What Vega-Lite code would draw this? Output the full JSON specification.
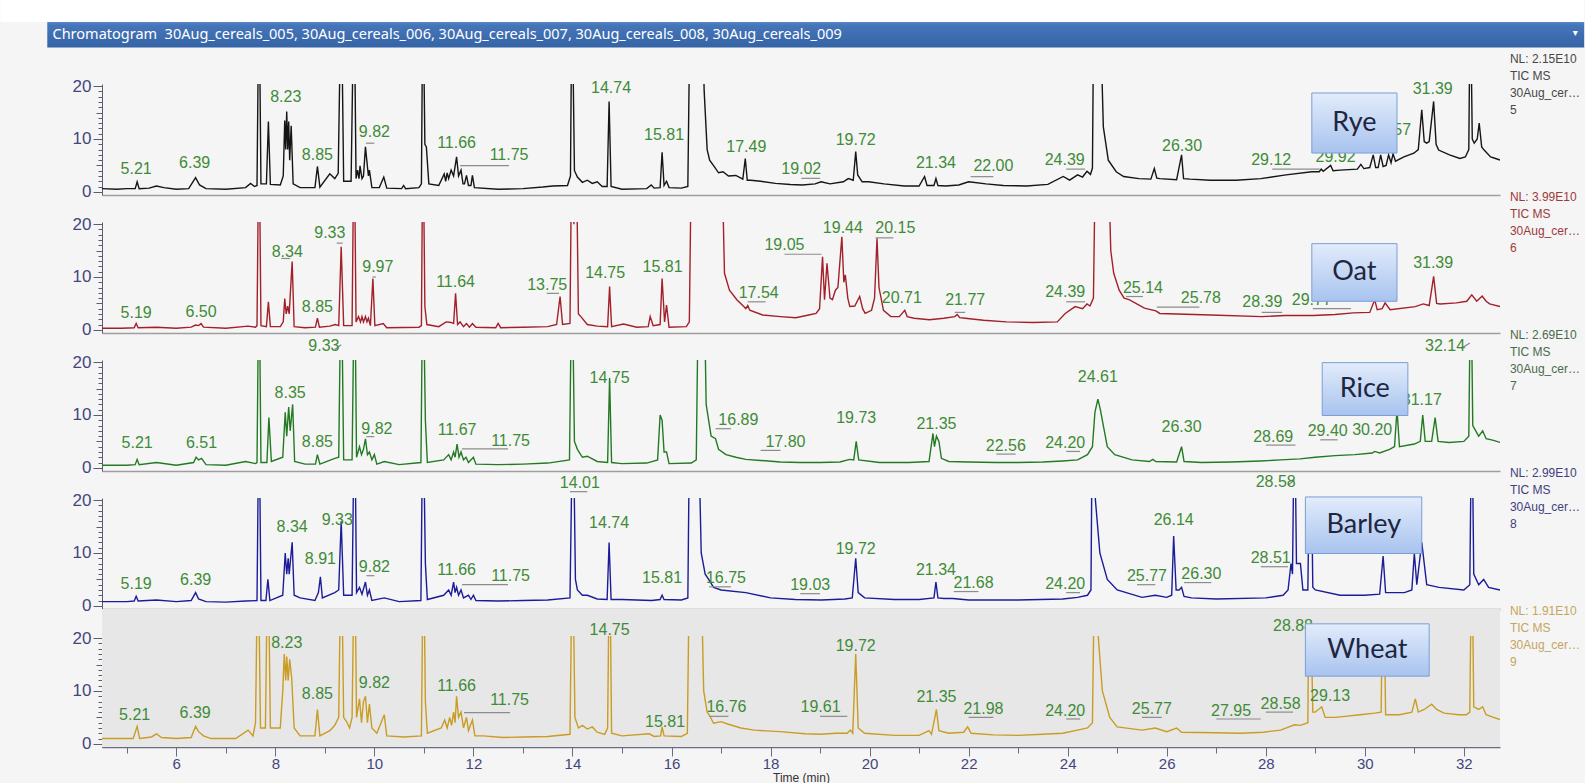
{
  "$schema": "https://vega.github.io/schema/vega-lite/v6.json",
  "padding": {"left": 0, "top": 0, "right": 0, "bottom": 0},
  "bounds": "flush",
  "spacing": 27,
  "resolve": {"scale": {"x": "independent", "y": "independent"}},
  "config": {
    "background": "#f5f5f5",
    "view": {"stroke": null},
    "axis": {"grid": false, "labelOverlap": false, "labelFont": "Liberation Sans", "titleFont": "Liberation Sans"}
  },
  "datasets": {
    "rye": [
      {"t":4.5,"i":0.6},{"t":4.8,"i":0.5},{"t":5.0,"i":0.6},{"t":5.17,"i":0.6},{"t":5.21,"i":1.9},{"t":5.25,"i":0.6},{"t":5.45,"i":0.7},{"t":5.6,"i":1.1},{"t":5.75,"i":0.8},{"t":6.0,"i":0.5},{"t":6.25,"i":0.6},{"t":6.39,"i":2.7},{"t":6.47,"i":1.3},{"t":6.6,"i":0.6},{"t":7.0,"i":0.5},{"t":7.4,"i":0.8},{"t":7.5,"i":1.6},{"t":7.58,"i":1.0},{"t":7.63,"i":1.2},{"t":7.67,"i":40},{"t":7.71,"i":1.5},{"t":7.82,"i":1.5},{"t":7.86,"i":13.3},{"t":7.9,"i":1.4},{"t":8.1,"i":1.3},{"t":8.16,"i":3},{"t":8.19,"i":13.5},{"t":8.21,"i":8},{"t":8.23,"i":15.2},{"t":8.25,"i":8},{"t":8.27,"i":13.3},{"t":8.29,"i":6},{"t":8.32,"i":12.5},{"t":8.36,"i":1.5},{"t":8.5,"i":0.8},{"t":8.8,"i":0.8},{"t":8.85,"i":4.8},{"t":8.9,"i":0.9},{"t":9.1,"i":3.4},{"t":9.2,"i":2.5},{"t":9.27,"i":3.5},{"t":9.33,"i":40},{"t":9.38,"i":2.0},{"t":9.53,"i":2.0},{"t":9.59,"i":40},{"t":9.63,"i":2.5},{"t":9.66,"i":4.1},{"t":9.69,"i":2.5},{"t":9.71,"i":4.9},{"t":9.75,"i":2.5},{"t":9.78,"i":3},{"t":9.82,"i":8.5},{"t":9.86,"i":4.75},{"t":9.88,"i":3},{"t":9.9,"i":4.1},{"t":9.95,"i":0.8},{"t":10.1,"i":0.8},{"t":10.19,"i":2.8},{"t":10.25,"i":0.7},{"t":10.55,"i":0.6},{"t":10.59,"i":1.2},{"t":10.63,"i":0.6},{"t":10.9,"i":0.8},{"t":10.95,"i":1.5},{"t":10.98,"i":40},{"t":11.02,"i":9},{"t":11.05,"i":8.5},{"t":11.1,"i":1.5},{"t":11.3,"i":1.2},{"t":11.41,"i":3.4},{"t":11.44,"i":2.0},{"t":11.47,"i":3.6},{"t":11.5,"i":2.5},{"t":11.55,"i":4.1},{"t":11.6,"i":3},{"t":11.66,"i":6.6},{"t":11.7,"i":3},{"t":11.75,"i":4.1},{"t":11.79,"i":1.5},{"t":11.82,"i":1.5},{"t":11.86,"i":3.1},{"t":11.9,"i":1.2},{"t":11.95,"i":1.2},{"t":11.98,"i":3.1},{"t":12.02,"i":0.8},{"t":12.5,"i":0.5},{"t":13.0,"i":0.6},{"t":13.4,"i":0.9},{"t":13.6,"i":1.1},{"t":13.9,"i":1.2},{"t":13.96,"i":3},{"t":13.99,"i":40},{"t":14.04,"i":4},{"t":14.1,"i":2.8},{"t":14.2,"i":1.8},{"t":14.3,"i":2.2},{"t":14.4,"i":1.6},{"t":14.5,"i":1.9},{"t":14.6,"i":1.0},{"t":14.7,"i":1.0},{"t":14.74,"i":17.1},{"t":14.78,"i":1.0},{"t":15.0,"i":0.5},{"t":15.5,"i":0.6},{"t":15.59,"i":1.3},{"t":15.65,"i":0.7},{"t":15.77,"i":0.8},{"t":15.81,"i":7.5},{"t":15.85,"i":1.2},{"t":15.9,"i":2},{"t":15.95,"i":0.8},{"t":16.2,"i":0.7},{"t":16.33,"i":1.0},{"t":16.38,"i":40},{"t":16.6,"i":40},{"t":16.66,"i":19},{"t":16.72,"i":8},{"t":16.77,"i":6.0},{"t":16.86,"i":4.8},{"t":16.95,"i":3.6},{"t":17.04,"i":3.8},{"t":17.15,"i":3.0},{"t":17.3,"i":3.1},{"t":17.44,"i":2.4},{"t":17.49,"i":6.3},{"t":17.53,"i":2.2},{"t":17.6,"i":2.2},{"t":17.8,"i":2.0},{"t":18.1,"i":1.6},{"t":18.4,"i":1.4},{"t":18.64,"i":1.3},{"t":18.9,"i":1.5},{"t":19.02,"i":1.9},{"t":19.2,"i":1.5},{"t":19.47,"i":1.9},{"t":19.57,"i":2.5},{"t":19.67,"i":2.2},{"t":19.72,"i":7.6},{"t":19.76,"i":3.2},{"t":19.85,"i":1.9},{"t":19.98,"i":1.9},{"t":20.29,"i":1.5},{"t":20.7,"i":1.1},{"t":21.0,"i":1.1},{"t":21.11,"i":2.9},{"t":21.16,"i":1.2},{"t":21.3,"i":1.2},{"t":21.34,"i":2.5},{"t":21.38,"i":1.2},{"t":21.53,"i":1.1},{"t":21.8,"i":1.3},{"t":22.0,"i":1.9},{"t":22.35,"i":1.5},{"t":22.7,"i":1.2},{"t":23.17,"i":1.1},{"t":23.6,"i":1.4},{"t":23.91,"i":2.9},{"t":24.04,"i":2.2},{"t":24.2,"i":3.2},{"t":24.3,"i":2.8},{"t":24.39,"i":3.9},{"t":24.46,"i":3.3},{"t":24.5,"i":4.5},{"t":24.53,"i":40},{"t":24.64,"i":40},{"t":24.72,"i":12.3},{"t":24.82,"i":6},{"t":24.98,"i":3.8},{"t":25.13,"i":2.9},{"t":25.44,"i":2.5},{"t":25.68,"i":2.4},{"t":25.75,"i":4.4},{"t":25.8,"i":2.6},{"t":25.86,"i":2.5},{"t":26.2,"i":2.3},{"t":26.3,"i":7.0},{"t":26.34,"i":2.5},{"t":26.47,"i":2.4},{"t":26.88,"i":2.2},{"t":27.4,"i":2.2},{"t":27.9,"i":2.5},{"t":28.41,"i":3.2},{"t":28.93,"i":3.8},{"t":29.08,"i":3.8},{"t":29.12,"i":4.3},{"t":29.16,"i":3.9},{"t":29.31,"i":5.0},{"t":29.36,"i":4.0},{"t":29.5,"i":4.1},{"t":29.85,"i":4.3},{"t":29.92,"i":5.2},{"t":29.98,"i":4.4},{"t":30.1,"i":4.6},{"t":30.17,"i":7.0},{"t":30.22,"i":4.6},{"t":30.27,"i":4.6},{"t":30.32,"i":7.0},{"t":30.37,"i":4.8},{"t":30.43,"i":5.0},{"t":30.48,"i":7.0},{"t":30.53,"i":5.5},{"t":30.57,"i":7.2},{"t":30.62,"i":5.8},{"t":30.79,"i":6.6},{"t":30.99,"i":7.3},{"t":31.08,"i":8},{"t":31.15,"i":15.5},{"t":31.2,"i":9.5},{"t":31.25,"i":9.2},{"t":31.3,"i":9.5},{"t":31.39,"i":17.1},{"t":31.44,"i":9},{"t":31.49,"i":7.9},{"t":31.71,"i":7},{"t":31.92,"i":6.3},{"t":32.03,"i":6.6},{"t":32.1,"i":8},{"t":32.13,"i":40},{"t":32.17,"i":10},{"t":32.21,"i":9.2},{"t":32.27,"i":10},{"t":32.31,"i":13.0},{"t":32.36,"i":8.5},{"t":32.41,"i":7.9},{"t":32.54,"i":6.6},{"t":32.64,"i":6.3},{"t":32.73,"i":6.0}
    ],
    "oat": [
      {"t":4.5,"i":0.3},{"t":4.9,"i":0.3},{"t":5.15,"i":0.4},{"t":5.19,"i":1.2},{"t":5.23,"i":0.4},{"t":5.6,"i":0.5},{"t":6.0,"i":0.3},{"t":6.3,"i":0.5},{"t":6.39,"i":0.9},{"t":6.45,"i":0.8},{"t":6.5,"i":1.2},{"t":6.55,"i":0.5},{"t":7.0,"i":0.3},{"t":7.45,"i":0.7},{"t":7.6,"i":0.5},{"t":7.63,"i":0.8},{"t":7.67,"i":40},{"t":7.71,"i":0.8},{"t":7.82,"i":0.6},{"t":7.86,"i":5.3},{"t":7.9,"i":0.6},{"t":8.1,"i":0.6},{"t":8.16,"i":1.5},{"t":8.19,"i":5.9},{"t":8.22,"i":3},{"t":8.25,"i":4.5},{"t":8.28,"i":3},{"t":8.31,"i":8},{"t":8.34,"i":12.9},{"t":8.38,"i":0.6},{"t":8.6,"i":0.4},{"t":8.81,"i":0.5},{"t":8.85,"i":2.2},{"t":8.89,"i":0.5},{"t":9.1,"i":0.7},{"t":9.21,"i":1.0},{"t":9.28,"i":0.8},{"t":9.33,"i":15.7},{"t":9.38,"i":0.8},{"t":9.55,"i":0.8},{"t":9.59,"i":40},{"t":9.63,"i":1.5},{"t":9.68,"i":2.5},{"t":9.72,"i":1.5},{"t":9.75,"i":2.5},{"t":9.78,"i":1.5},{"t":9.82,"i":2.5},{"t":9.85,"i":1.5},{"t":9.88,"i":2.2},{"t":9.92,"i":0.8},{"t":9.97,"i":9.7},{"t":10.01,"i":0.8},{"t":10.18,"i":1.2},{"t":10.25,"i":0.4},{"t":10.9,"i":0.5},{"t":10.95,"i":0.8},{"t":10.98,"i":40},{"t":11.02,"i":4.4},{"t":11.06,"i":1.0},{"t":11.3,"i":0.6},{"t":11.45,"i":1.5},{"t":11.55,"i":1.4},{"t":11.6,"i":1.2},{"t":11.64,"i":6.9},{"t":11.68,"i":1.0},{"t":11.73,"i":1.5},{"t":11.8,"i":0.6},{"t":11.86,"i":1.2},{"t":11.92,"i":0.5},{"t":11.98,"i":1.2},{"t":12.05,"i":0.5},{"t":12.45,"i":0.4},{"t":12.5,"i":1.2},{"t":12.55,"i":0.4},{"t":13.0,"i":0.5},{"t":13.5,"i":0.6},{"t":13.68,"i":1.0},{"t":13.75,"i":6.3},{"t":13.8,"i":1.0},{"t":13.95,"i":1.2},{"t":13.99,"i":40},{"t":14.03,"i":20},{"t":14.07,"i":40},{"t":14.12,"i":3},{"t":14.17,"i":2.5},{"t":14.3,"i":1.0},{"t":14.5,"i":0.7},{"t":14.71,"i":0.6},{"t":14.75,"i":8.2},{"t":14.79,"i":0.6},{"t":15.03,"i":1.1},{"t":15.3,"i":0.5},{"t":15.53,"i":0.6},{"t":15.57,"i":2.5},{"t":15.63,"i":0.8},{"t":15.77,"i":1.0},{"t":15.81,"i":9.7},{"t":15.86,"i":1.5},{"t":15.9,"i":4.7},{"t":15.95,"i":0.5},{"t":16.3,"i":0.6},{"t":16.36,"i":1.5},{"t":16.41,"i":40},{"t":17.0,"i":40},{"t":17.07,"i":10.7},{"t":17.17,"i":7.5},{"t":17.32,"i":5.7},{"t":17.46,"i":4.4},{"t":17.5,"i":4.0},{"t":17.54,"i":4.6},{"t":17.58,"i":3.7},{"t":17.84,"i":2.8},{"t":18.2,"i":2.5},{"t":18.51,"i":2.3},{"t":18.77,"i":2.8},{"t":18.92,"i":3.1},{"t":18.99,"i":4},{"t":19.05,"i":13.8},{"t":19.09,"i":5.7},{"t":19.14,"i":12.6},{"t":19.2,"i":6},{"t":19.25,"i":5.7},{"t":19.31,"i":7.5},{"t":19.36,"i":8},{"t":19.44,"i":17.6},{"t":19.48,"i":9},{"t":19.51,"i":10.4},{"t":19.56,"i":6},{"t":19.6,"i":4.4},{"t":19.7,"i":4.5},{"t":19.8,"i":6.3},{"t":19.86,"i":4},{"t":19.91,"i":3.1},{"t":20.04,"i":3.7},{"t":20.1,"i":6},{"t":20.15,"i":17.3},{"t":20.19,"i":8},{"t":20.28,"i":3.7},{"t":20.43,"i":2.5},{"t":20.6,"i":2.5},{"t":20.71,"i":3.7},{"t":20.76,"i":2.5},{"t":20.9,"i":2.2},{"t":21.21,"i":1.9},{"t":21.5,"i":2.2},{"t":21.72,"i":2.5},{"t":21.77,"i":2.9},{"t":21.82,"i":2.3},{"t":21.93,"i":2.2},{"t":22.3,"i":1.8},{"t":22.76,"i":1.5},{"t":23.3,"i":1.4},{"t":23.79,"i":1.5},{"t":23.95,"i":3.1},{"t":24.15,"i":4.4},{"t":24.3,"i":4.0},{"t":24.39,"i":4.9},{"t":24.45,"i":4.5},{"t":24.52,"i":6},{"t":24.57,"i":40},{"t":24.8,"i":40},{"t":24.87,"i":15},{"t":24.93,"i":10.7},{"t":25.04,"i":7.5},{"t":25.14,"i":6.0},{"t":25.24,"i":5.7},{"t":25.55,"i":4.1},{"t":25.78,"i":3.6},{"t":25.86,"i":3.1},{"t":26.89,"i":2.8},{"t":27.92,"i":2.5},{"t":28.39,"i":2.7},{"t":28.96,"i":2.7},{"t":29.4,"i":2.9},{"t":29.77,"i":3.2},{"t":30.1,"i":3.3},{"t":30.2,"i":5.7},{"t":30.25,"i":3.8},{"t":30.35,"i":4.0},{"t":30.41,"i":5.1},{"t":30.51,"i":3.8},{"t":31.02,"i":4.4},{"t":31.18,"i":4.9},{"t":31.3,"i":4.6},{"t":31.39,"i":10.1},{"t":31.45,"i":5},{"t":31.52,"i":4.9},{"t":31.85,"i":5.1},{"t":32.06,"i":5.4},{"t":32.16,"i":6.6},{"t":32.26,"i":5.4},{"t":32.37,"i":6.4},{"t":32.45,"i":5.4},{"t":32.52,"i":4.9},{"t":32.73,"i":4.4}
    ],
    "rice": [
      {"t":4.5,"i":0.5},{"t":5.0,"i":0.5},{"t":5.17,"i":0.6},{"t":5.21,"i":1.6},{"t":5.25,"i":0.6},{"t":5.6,"i":1.0},{"t":6.0,"i":0.5},{"t":6.35,"i":1.0},{"t":6.4,"i":2.0},{"t":6.45,"i":1.5},{"t":6.51,"i":1.8},{"t":6.6,"i":0.6},{"t":7.0,"i":0.5},{"t":7.4,"i":1.2},{"t":7.6,"i":0.8},{"t":7.63,"i":1.0},{"t":7.67,"i":40},{"t":7.71,"i":1.0},{"t":7.83,"i":1.0},{"t":7.87,"i":9.5},{"t":7.92,"i":1.2},{"t":8.15,"i":2},{"t":8.2,"i":10.5},{"t":8.23,"i":6},{"t":8.27,"i":11.5},{"t":8.3,"i":7},{"t":8.35,"i":12.0},{"t":8.39,"i":1.2},{"t":8.6,"i":0.7},{"t":8.81,"i":0.7},{"t":8.85,"i":2.5},{"t":8.9,"i":0.7},{"t":9.2,"i":1.8},{"t":9.28,"i":2},{"t":9.33,"i":40},{"t":9.38,"i":1.5},{"t":9.55,"i":1.5},{"t":9.6,"i":40},{"t":9.64,"i":2},{"t":9.7,"i":4.0},{"t":9.74,"i":2.5},{"t":9.78,"i":3.5},{"t":9.82,"i":5.5},{"t":9.86,"i":2.5},{"t":9.9,"i":3.0},{"t":9.95,"i":1.5},{"t":10.0,"i":2.5},{"t":10.05,"i":0.7},{"t":10.2,"i":1.2},{"t":10.5,"i":0.6},{"t":10.94,"i":1.0},{"t":10.98,"i":40},{"t":11.03,"i":9.0},{"t":11.07,"i":1.0},{"t":11.4,"i":1.5},{"t":11.5,"i":2.5},{"t":11.55,"i":1.5},{"t":11.6,"i":3.0},{"t":11.63,"i":2},{"t":11.67,"i":4.5},{"t":11.71,"i":2},{"t":11.75,"i":3.0},{"t":11.8,"i":1.5},{"t":11.85,"i":2.0},{"t":11.9,"i":1.0},{"t":12.0,"i":2.0},{"t":12.05,"i":0.7},{"t":12.5,"i":0.6},{"t":13.0,"i":0.7},{"t":13.5,"i":0.9},{"t":13.94,"i":1.5},{"t":13.99,"i":40},{"t":14.04,"i":5},{"t":14.1,"i":3.5},{"t":14.2,"i":2.0},{"t":14.3,"i":2.2},{"t":14.5,"i":1.2},{"t":14.71,"i":1.0},{"t":14.75,"i":17.0},{"t":14.79,"i":1.0},{"t":15.0,"i":0.8},{"t":15.5,"i":0.9},{"t":15.72,"i":1.5},{"t":15.77,"i":10.0},{"t":15.81,"i":9.0},{"t":15.85,"i":3.0},{"t":15.9,"i":3.0},{"t":15.95,"i":0.8},{"t":16.4,"i":0.9},{"t":16.5,"i":1.5},{"t":16.55,"i":40},{"t":16.65,"i":40},{"t":16.7,"i":12},{"t":16.8,"i":6.0},{"t":16.89,"i":5.5},{"t":16.95,"i":3.5},{"t":17.1,"i":2.5},{"t":17.3,"i":2.0},{"t":17.5,"i":1.6},{"t":17.8,"i":1.4},{"t":18.2,"i":1.1},{"t":18.6,"i":1.0},{"t":19.0,"i":1.0},{"t":19.4,"i":1.1},{"t":19.6,"i":1.6},{"t":19.68,"i":1.5},{"t":19.73,"i":5.0},{"t":19.78,"i":1.5},{"t":20.2,"i":1.0},{"t":20.8,"i":1.0},{"t":21.2,"i":1.2},{"t":21.28,"i":6.5},{"t":21.31,"i":4},{"t":21.35,"i":6.0},{"t":21.4,"i":5.0},{"t":21.45,"i":1.8},{"t":21.6,"i":1.2},{"t":22.0,"i":1.1},{"t":22.56,"i":1.0},{"t":23.0,"i":1.0},{"t":23.5,"i":1.1},{"t":23.9,"i":1.3},{"t":24.2,"i":1.5},{"t":24.4,"i":2.5},{"t":24.5,"i":4.0},{"t":24.55,"i":10.5},{"t":24.61,"i":13.0},{"t":24.66,"i":11.0},{"t":24.72,"i":8.0},{"t":24.8,"i":4.0},{"t":24.95,"i":2.5},{"t":25.3,"i":1.5},{"t":25.65,"i":1.2},{"t":25.72,"i":1.6},{"t":25.78,"i":1.2},{"t":26.2,"i":1.1},{"t":26.3,"i":4.0},{"t":26.35,"i":1.2},{"t":26.7,"i":1.0},{"t":27.3,"i":1.1},{"t":27.9,"i":1.3},{"t":28.3,"i":1.5},{"t":28.69,"i":1.7},{"t":29.0,"i":2.0},{"t":29.4,"i":2.3},{"t":29.8,"i":2.5},{"t":30.15,"i":2.8},{"t":30.2,"i":3.1},{"t":30.3,"i":2.8},{"t":30.5,"i":3.5},{"t":30.6,"i":4.0},{"t":30.65,"i":11.0},{"t":30.7,"i":4.0},{"t":31.0,"i":4.5},{"t":31.12,"i":5},{"t":31.17,"i":10.0},{"t":31.22,"i":5},{"t":31.35,"i":5.0},{"t":31.42,"i":9.5},{"t":31.48,"i":5.0},{"t":31.7,"i":4.8},{"t":32.0,"i":5.0},{"t":32.1,"i":6},{"t":32.14,"i":40},{"t":32.18,"i":8},{"t":32.3,"i":6.0},{"t":32.38,"i":7.0},{"t":32.45,"i":5.5},{"t":32.6,"i":5.2},{"t":32.73,"i":4.8}
    ],
    "barley": [
      {"t":4.5,"i":0.8},{"t":5.0,"i":0.8},{"t":5.15,"i":0.9},{"t":5.19,"i":1.8},{"t":5.23,"i":0.9},{"t":5.6,"i":1.1},{"t":6.0,"i":0.8},{"t":6.3,"i":1.0},{"t":6.39,"i":2.5},{"t":6.45,"i":1.3},{"t":6.6,"i":0.8},{"t":7.0,"i":0.7},{"t":7.4,"i":0.9},{"t":7.63,"i":1.0},{"t":7.67,"i":40},{"t":7.71,"i":1.0},{"t":7.81,"i":1.0},{"t":7.85,"i":5.0},{"t":7.89,"i":1.0},{"t":8.15,"i":2},{"t":8.2,"i":10.0},{"t":8.23,"i":6},{"t":8.26,"i":9},{"t":8.28,"i":6},{"t":8.3,"i":8},{"t":8.34,"i":12},{"t":8.38,"i":2},{"t":8.5,"i":1.5},{"t":8.8,"i":1.0},{"t":8.87,"i":2.5},{"t":8.91,"i":5.5},{"t":8.95,"i":1.5},{"t":9.2,"i":2.5},{"t":9.28,"i":3},{"t":9.33,"i":16.0},{"t":9.38,"i":2},{"t":9.55,"i":2},{"t":9.6,"i":40},{"t":9.64,"i":2.5},{"t":9.7,"i":3.5},{"t":9.75,"i":2.2},{"t":9.82,"i":4.5},{"t":9.86,"i":2},{"t":9.9,"i":3.0},{"t":9.95,"i":1.0},{"t":10.2,"i":1.5},{"t":10.5,"i":0.8},{"t":10.94,"i":1.0},{"t":10.98,"i":40},{"t":11.03,"i":8.0},{"t":11.07,"i":1.2},{"t":11.4,"i":2},{"t":11.5,"i":3.0},{"t":11.55,"i":2},{"t":11.6,"i":4.5},{"t":11.63,"i":2.5},{"t":11.66,"i":3.5},{"t":11.7,"i":2},{"t":11.75,"i":3.0},{"t":11.8,"i":1.5},{"t":11.9,"i":2.0},{"t":11.95,"i":1.2},{"t":12.0,"i":2.0},{"t":12.05,"i":1.0},{"t":12.5,"i":0.9},{"t":13.0,"i":1.0},{"t":13.5,"i":1.1},{"t":13.95,"i":1.5},{"t":14.01,"i":40},{"t":14.06,"i":5},{"t":14.1,"i":3.0},{"t":14.2,"i":2.0},{"t":14.3,"i":2.0},{"t":14.5,"i":1.3},{"t":14.7,"i":1.2},{"t":14.74,"i":12.0},{"t":14.78,"i":1.2},{"t":15.0,"i":1.2},{"t":15.6,"i":1.0},{"t":15.77,"i":1.2},{"t":15.81,"i":2.0},{"t":15.85,"i":1.2},{"t":16.2,"i":1.1},{"t":16.33,"i":1.5},{"t":16.37,"i":40},{"t":16.53,"i":40},{"t":16.6,"i":10.0},{"t":16.68,"i":6},{"t":16.75,"i":5.0},{"t":16.85,"i":3.5},{"t":17.0,"i":3.0},{"t":17.5,"i":2.5},{"t":18.0,"i":1.5},{"t":18.5,"i":1.2},{"t":19.03,"i":1.1},{"t":19.5,"i":1.3},{"t":19.65,"i":1.5},{"t":19.72,"i":9.0},{"t":19.77,"i":2.5},{"t":19.9,"i":1.5},{"t":20.5,"i":1.2},{"t":21.0,"i":1.2},{"t":21.3,"i":1.5},{"t":21.34,"i":4.5},{"t":21.38,"i":1.5},{"t":21.5,"i":1.4},{"t":21.68,"i":1.4},{"t":22.0,"i":1.1},{"t":23.0,"i":1.1},{"t":23.9,"i":1.3},{"t":24.2,"i":1.6},{"t":24.4,"i":2.0},{"t":24.47,"i":3},{"t":24.5,"i":40},{"t":24.56,"i":20},{"t":24.65,"i":10},{"t":24.8,"i":5.0},{"t":25.0,"i":3.0},{"t":25.5,"i":1.6},{"t":25.77,"i":2.0},{"t":26.0,"i":1.6},{"t":26.1,"i":2},{"t":26.14,"i":13.2},{"t":26.19,"i":3},{"t":26.25,"i":3.0},{"t":26.3,"i":3.5},{"t":26.35,"i":1.8},{"t":26.5,"i":1.5},{"t":27.0,"i":1.3},{"t":28.0,"i":1.5},{"t":28.35,"i":2.0},{"t":28.45,"i":3},{"t":28.51,"i":8.0},{"t":28.54,"i":6},{"t":28.58,"i":40},{"t":28.62,"i":8},{"t":28.7,"i":8.0},{"t":28.75,"i":3},{"t":28.85,"i":3},{"t":28.9,"i":40},{"t":28.95,"i":3.5},{"t":29.0,"i":3.0},{"t":29.5,"i":2.0},{"t":30.0,"i":2.0},{"t":30.3,"i":2.2},{"t":30.37,"i":9.4},{"t":30.42,"i":2.5},{"t":30.8,"i":2.5},{"t":30.95,"i":3},{"t":31.0,"i":10.0},{"t":31.05,"i":4},{"t":31.15,"i":12.0},{"t":31.25,"i":4.0},{"t":31.5,"i":3.5},{"t":32.0,"i":3.0},{"t":32.12,"i":4},{"t":32.16,"i":40},{"t":32.2,"i":6},{"t":32.3,"i":4.0},{"t":32.4,"i":5.0},{"t":32.5,"i":3.5},{"t":32.73,"i":3.0}
    ],
    "wheat": [
      {"t":4.5,"i":1.0},{"t":5.0,"i":1.0},{"t":5.13,"i":1.0},{"t":5.21,"i":3.3},{"t":5.26,"i":1.0},{"t":5.5,"i":1.3},{"t":5.6,"i":1.9},{"t":5.7,"i":1.2},{"t":6.0,"i":1.0},{"t":6.3,"i":1.2},{"t":6.39,"i":3.3},{"t":6.45,"i":2.3},{"t":6.55,"i":1.5},{"t":6.7,"i":1.0},{"t":7.2,"i":1.0},{"t":7.45,"i":2.6},{"t":7.55,"i":1.5},{"t":7.6,"i":4},{"t":7.65,"i":40},{"t":7.7,"i":3},{"t":7.8,"i":3},{"t":7.85,"i":40},{"t":7.9,"i":3},{"t":8.1,"i":3},{"t":8.15,"i":10},{"t":8.18,"i":17.0},{"t":8.21,"i":12},{"t":8.23,"i":16.5},{"t":8.26,"i":12},{"t":8.29,"i":16.0},{"t":8.33,"i":12.5},{"t":8.38,"i":3},{"t":8.5,"i":1.5},{"t":8.8,"i":1.5},{"t":8.85,"i":6.5},{"t":8.9,"i":1.5},{"t":9.1,"i":2.5},{"t":9.2,"i":3.5},{"t":9.28,"i":5},{"t":9.33,"i":40},{"t":9.38,"i":5},{"t":9.45,"i":4},{"t":9.5,"i":3},{"t":9.55,"i":5},{"t":9.6,"i":40},{"t":9.64,"i":5},{"t":9.7,"i":8.5},{"t":9.74,"i":4},{"t":9.78,"i":8.0},{"t":9.82,"i":9.0},{"t":9.86,"i":4},{"t":9.9,"i":7.5},{"t":9.95,"i":3},{"t":10.05,"i":2},{"t":10.2,"i":5.5},{"t":10.25,"i":1.5},{"t":10.6,"i":1.3},{"t":10.95,"i":1.5},{"t":10.99,"i":40},{"t":11.03,"i":8},{"t":11.07,"i":2},{"t":11.35,"i":3},{"t":11.42,"i":4.5},{"t":11.47,"i":3},{"t":11.52,"i":5},{"t":11.56,"i":3.5},{"t":11.6,"i":6},{"t":11.63,"i":4},{"t":11.66,"i":9},{"t":11.7,"i":5},{"t":11.75,"i":6},{"t":11.8,"i":3},{"t":11.86,"i":5},{"t":11.9,"i":2.5},{"t":11.98,"i":4.5},{"t":12.03,"i":1.5},{"t":12.2,"i":1.5},{"t":12.6,"i":1.2},{"t":13.0,"i":1.3},{"t":13.5,"i":1.4},{"t":13.95,"i":1.8},{"t":14.0,"i":40},{"t":14.05,"i":5},{"t":14.12,"i":3},{"t":14.2,"i":3.5},{"t":14.3,"i":2.8},{"t":14.4,"i":3.2},{"t":14.5,"i":2.2},{"t":14.65,"i":1.8},{"t":14.71,"i":3},{"t":14.75,"i":40},{"t":14.79,"i":2},{"t":15.0,"i":1.5},{"t":15.55,"i":1.9},{"t":15.65,"i":1.4},{"t":15.78,"i":1.5},{"t":15.81,"i":3.2},{"t":15.85,"i":1.5},{"t":16.2,"i":1.4},{"t":16.32,"i":2},{"t":16.37,"i":40},{"t":16.58,"i":40},{"t":16.65,"i":10},{"t":16.72,"i":6},{"t":16.76,"i":5.5},{"t":16.85,"i":3.9},{"t":17.0,"i":4.2},{"t":17.15,"i":3.7},{"t":17.4,"i":3.0},{"t":17.67,"i":2.6},{"t":18.0,"i":2.4},{"t":18.19,"i":2.3},{"t":18.7,"i":1.9},{"t":19.0,"i":1.8},{"t":19.32,"i":2.0},{"t":19.55,"i":2.0},{"t":19.61,"i":2.6},{"t":19.66,"i":2.0},{"t":19.72,"i":17.0},{"t":19.77,"i":3},{"t":19.9,"i":2.0},{"t":20.5,"i":1.6},{"t":21.0,"i":1.6},{"t":21.2,"i":2.5},{"t":21.25,"i":1.8},{"t":21.35,"i":6.5},{"t":21.4,"i":2.5},{"t":21.6,"i":2.0},{"t":21.9,"i":2.2},{"t":21.98,"i":3.2},{"t":22.05,"i":2.0},{"t":22.5,"i":1.7},{"t":23.0,"i":1.6},{"t":23.5,"i":1.8},{"t":23.9,"i":2.0},{"t":24.2,"i":2.6},{"t":24.4,"i":3.0},{"t":24.5,"i":4},{"t":24.55,"i":40},{"t":24.62,"i":20},{"t":24.7,"i":10},{"t":24.85,"i":5},{"t":25.0,"i":3.2},{"t":25.5,"i":2.6},{"t":25.77,"i":3.0},{"t":26.0,"i":2.3},{"t":26.2,"i":3.0},{"t":26.3,"i":2.2},{"t":27.0,"i":2.1},{"t":27.5,"i":2.0},{"t":27.95,"i":2.2},{"t":28.3,"i":2.6},{"t":28.58,"i":3.6},{"t":28.7,"i":3.5},{"t":28.85,"i":4},{"t":28.88,"i":40},{"t":28.95,"i":6},{"t":29.0,"i":6.0},{"t":29.13,"i":7.0},{"t":29.2,"i":5.0},{"t":29.4,"i":5.0},{"t":29.6,"i":5.2},{"t":29.9,"i":5.5},{"t":30.2,"i":5.8},{"t":30.33,"i":6},{"t":30.37,"i":40},{"t":30.42,"i":5.5},{"t":30.7,"i":5.5},{"t":30.95,"i":6},{"t":31.02,"i":8.5},{"t":31.08,"i":6},{"t":31.2,"i":6.5},{"t":31.35,"i":7.5},{"t":31.45,"i":6.5},{"t":31.6,"i":5.8},{"t":31.9,"i":5.5},{"t":32.05,"i":5.5},{"t":32.12,"i":6},{"t":32.16,"i":40},{"t":32.2,"i":7},{"t":32.3,"i":6.5},{"t":32.38,"i":7.0},{"t":32.45,"i":5.5},{"t":32.6,"i":5.0},{"t":32.73,"i":4.6}
    ],
    "peaks": [
      {"p":"Rye","rt":"5.21","x":5.19,"y":4.4},{"p":"Rye","rt":"6.39","x":6.37,"y":5.4},{"p":"Rye","rt":"8.23","x":8.21,"y":17.9},{"p":"Rye","rt":"8.85","x":8.85,"y":7.0},{"p":"Rye","rt":"9.82","x":10.0,"y":11.4},{"p":"Rye","rt":"11.66","x":11.66,"y":9.2},{"p":"Rye","rt":"11.75","x":12.72,"y":7.0},{"p":"Rye","rt":"14.74","x":14.78,"y":19.6},{"p":"Rye","rt":"15.81","x":15.85,"y":10.7},{"p":"Rye","rt":"17.49","x":17.51,"y":8.4},{"p":"Rye","rt":"19.02","x":18.62,"y":4.4},{"p":"Rye","rt":"19.72","x":19.72,"y":9.8},{"p":"Rye","rt":"21.34","x":21.34,"y":5.4},{"p":"Rye","rt":"22.00","x":22.5,"y":4.8},{"p":"Rye","rt":"24.39","x":23.94,"y":6.0},{"p":"Rye","rt":"26.30","x":26.31,"y":8.6},{"p":"Rye","rt":"29.12","x":28.11,"y":6.0},{"p":"Rye","rt":"29.92","x":29.41,"y":6.6},{"p":"Rye","rt":"30.57","x":30.53,"y":11.7},{"p":"Rye","rt":"31.39","x":31.37,"y":19.4},
      {"p":"Oat","rt":"5.19","x":5.19,"y":3.1},{"p":"Oat","rt":"6.50","x":6.5,"y":3.4},{"p":"Oat","rt":"8.34","x":8.24,"y":14.8},{"p":"Oat","rt":"8.85","x":8.85,"y":4.4},{"p":"Oat","rt":"9.33","x":9.1,"y":18.3},{"p":"Oat","rt":"9.97","x":10.07,"y":11.9},{"p":"Oat","rt":"11.64","x":11.64,"y":9.1},{"p":"Oat","rt":"13.75","x":13.49,"y":8.5},{"p":"Oat","rt":"14.75","x":14.66,"y":10.7},{"p":"Oat","rt":"15.81","x":15.82,"y":11.9},{"p":"Oat","rt":"17.54","x":17.76,"y":6.9},{"p":"Oat","rt":"19.05","x":18.28,"y":16.0},{"p":"Oat","rt":"19.44","x":19.46,"y":19.2},{"p":"Oat","rt":"20.15","x":20.52,"y":19.2},{"p":"Oat","rt":"20.71","x":20.65,"y":6.0},{"p":"Oat","rt":"21.77","x":21.93,"y":5.6},{"p":"Oat","rt":"24.39","x":23.95,"y":7.2},{"p":"Oat","rt":"25.14","x":25.52,"y":7.85},{"p":"Oat","rt":"25.78","x":26.69,"y":6.0},{"p":"Oat","rt":"28.39","x":27.93,"y":5.3},{"p":"Oat","rt":"29.77","x":28.93,"y":5.6},{"p":"Oat","rt":"31.39","x":31.38,"y":12.6},
      {"p":"Rice","rt":"5.21","x":5.21,"y":4.7},{"p":"Rice","rt":"6.51","x":6.51,"y":4.7},{"p":"Rice","rt":"8.35","x":8.3,"y":14.1},{"p":"Rice","rt":"8.85","x":8.85,"y":4.9},{"p":"Rice","rt":"9.33","x":8.98,"y":23.1},{"p":"Rice","rt":"9.82","x":10.05,"y":7.4},{"p":"Rice","rt":"11.67","x":11.67,"y":7.2},{"p":"Rice","rt":"11.75","x":12.75,"y":5.1},{"p":"Rice","rt":"14.75","x":14.75,"y":17.0},{"p":"Rice","rt":"16.89","x":17.35,"y":9.1},{"p":"Rice","rt":"17.80","x":18.3,"y":4.9},{"p":"Rice","rt":"19.73","x":19.73,"y":9.5},{"p":"Rice","rt":"21.35","x":21.35,"y":8.2},{"p":"Rice","rt":"22.56","x":22.75,"y":4.2},{"p":"Rice","rt":"24.20","x":23.95,"y":4.7},{"p":"Rice","rt":"24.61","x":24.61,"y":17.2},{"p":"Rice","rt":"26.30","x":26.3,"y":7.8},{"p":"Rice","rt":"28.69","x":28.15,"y":5.9},{"p":"Rice","rt":"29.40","x":29.25,"y":6.9},{"p":"Rice","rt":"30.20","x":30.15,"y":7.1},{"p":"Rice","rt":"31.17","x":31.15,"y":12.8},{"p":"Rice","rt":"32.14","x":31.62,"y":23.1},
      {"p":"Barley","rt":"5.19","x":5.19,"y":4.1},{"p":"Barley","rt":"6.39","x":6.39,"y":4.8},{"p":"Barley","rt":"8.34","x":8.34,"y":15.0},{"p":"Barley","rt":"8.91","x":8.91,"y":8.9},{"p":"Barley","rt":"9.33","x":9.25,"y":16.3},{"p":"Barley","rt":"9.82","x":10.0,"y":7.3},{"p":"Barley","rt":"11.66","x":11.66,"y":6.75},{"p":"Barley","rt":"11.75","x":12.75,"y":5.6},{"p":"Barley","rt":"14.01","x":14.15,"y":23.2},{"p":"Barley","rt":"14.74","x":14.74,"y":15.7},{"p":"Barley","rt":"15.81","x":15.81,"y":5.2},{"p":"Barley","rt":"16.75","x":17.1,"y":5.2},{"p":"Barley","rt":"19.03","x":18.8,"y":3.9},{"p":"Barley","rt":"19.72","x":19.72,"y":10.8},{"p":"Barley","rt":"21.34","x":21.34,"y":6.75},{"p":"Barley","rt":"21.68","x":22.1,"y":4.3},{"p":"Barley","rt":"24.20","x":23.95,"y":4.1},{"p":"Barley","rt":"25.77","x":25.6,"y":5.6},{"p":"Barley","rt":"26.14","x":26.14,"y":16.3},{"p":"Barley","rt":"26.30","x":26.7,"y":6.0},{"p":"Barley","rt":"28.51","x":28.1,"y":9.0},{"p":"Barley","rt":"28.58","x":28.2,"y":23.4},
      {"p":"Wheat","rt":"5.21","x":5.16,"y":5.45},{"p":"Wheat","rt":"6.39","x":6.38,"y":5.76},{"p":"Wheat","rt":"8.23","x":8.23,"y":19.0},{"p":"Wheat","rt":"8.85","x":8.85,"y":9.5},{"p":"Wheat","rt":"9.82","x":10.0,"y":11.5},{"p":"Wheat","rt":"11.66","x":11.66,"y":11.0},{"p":"Wheat","rt":"11.75","x":12.73,"y":8.3},{"p":"Wheat","rt":"14.75","x":14.75,"y":21.5},{"p":"Wheat","rt":"15.81","x":15.87,"y":4.2},{"p":"Wheat","rt":"16.76","x":17.11,"y":7.0},{"p":"Wheat","rt":"19.61","x":19.01,"y":6.9},{"p":"Wheat","rt":"19.72","x":19.72,"y":18.5},{"p":"Wheat","rt":"21.35","x":21.35,"y":8.8},{"p":"Wheat","rt":"21.98","x":22.3,"y":6.5},{"p":"Wheat","rt":"24.20","x":23.95,"y":6.3},{"p":"Wheat","rt":"25.77","x":25.7,"y":6.5},{"p":"Wheat","rt":"27.95","x":27.3,"y":6.3},{"p":"Wheat","rt":"28.58","x":28.3,"y":7.5},{"p":"Wheat","rt":"29.13","x":29.3,"y":9.0},{"p":"Wheat","rt":"28.88","x":28.55,"y":22.3}
    ],
    "leaders": [
      {"p":"Rye","x1":9.83,"x2":10.0,"y1":9.2,"y2":9.2},{"p":"Rye","x1":11.73,"x2":12.72,"y1":4.94,"y2":4.94},{"p":"Rye","x1":18.62,"x2":19.0,"y1":2.55,"y2":2.55},{"p":"Rye","x1":22.04,"x2":22.5,"y1":2.87,"y2":2.87},{"p":"Rye","x1":23.97,"x2":24.35,"y1":4.3,"y2":4.3},{"p":"Rye","x1":28.13,"x2":29.09,"y1":4.3,"y2":4.3},
      {"p":"Oat","x1":8.12,"x2":8.3,"y1":13.5,"y2":13.5},{"p":"Oat","x1":9.24,"x2":9.36,"y1":16.4,"y2":16.4},{"p":"Oat","x1":9.96,"x2":10.03,"y1":10.0,"y2":10.0},{"p":"Oat","x1":13.48,"x2":13.73,"y1":6.9,"y2":6.9},{"p":"Oat","x1":17.54,"x2":17.9,"y1":5.3,"y2":5.3},{"p":"Oat","x1":18.28,"x2":19.03,"y1":14.3,"y2":14.3},{"p":"Oat","x1":20.12,"x2":20.48,"y1":17.4,"y2":17.4},{"p":"Oat","x1":21.72,"x2":21.93,"y1":3.3,"y2":3.3},{"p":"Oat","x1":23.97,"x2":24.35,"y1":5.3,"y2":5.3},{"p":"Oat","x1":25.18,"x2":25.52,"y1":6.3,"y2":6.3},{"p":"Oat","x1":25.8,"x2":26.66,"y1":4.3,"y2":4.3},{"p":"Oat","x1":27.92,"x2":28.33,"y1":3.3,"y2":3.3},{"p":"Oat","x1":28.95,"x2":29.72,"y1":4.0,"y2":4.0},
      {"p":"Rice","x1":9.2,"x2":9.33,"y1":22.4,"y2":23.3},{"p":"Rice","x1":9.84,"x2":10.0,"y1":5.9,"y2":5.9},{"p":"Rice","x1":11.77,"x2":12.7,"y1":3.6,"y2":3.6},{"p":"Rice","x1":16.89,"x2":17.2,"y1":7.4,"y2":7.4},{"p":"Rice","x1":17.8,"x2":18.2,"y1":3.3,"y2":3.3},{"p":"Rice","x1":22.56,"x2":22.95,"y1":2.6,"y2":2.6},{"p":"Rice","x1":23.97,"x2":24.25,"y1":3.1,"y2":3.1},{"p":"Rice","x1":28.0,"x2":28.6,"y1":4.3,"y2":4.3},{"p":"Rice","x1":29.1,"x2":29.45,"y1":5.3,"y2":5.3},{"p":"Rice","x1":31.95,"x2":32.12,"y1":22.6,"y2":23.6},
      {"p":"Barley","x1":13.95,"x2":14.3,"y1":21.6,"y2":21.6},{"p":"Barley","x1":9.84,"x2":10.0,"y1":5.7,"y2":5.7},{"p":"Barley","x1":11.77,"x2":12.7,"y1":4.0,"y2":4.0},{"p":"Barley","x1":16.76,"x2":17.2,"y1":3.6,"y2":3.6},{"p":"Barley","x1":18.6,"x2":19.0,"y1":2.3,"y2":2.3},{"p":"Barley","x1":21.7,"x2":22.2,"y1":2.7,"y2":2.7},{"p":"Barley","x1":23.97,"x2":24.25,"y1":2.5,"y2":2.5},{"p":"Barley","x1":25.4,"x2":25.77,"y1":4.0,"y2":4.0},{"p":"Barley","x1":26.35,"x2":26.9,"y1":4.4,"y2":4.4},{"p":"Barley","x1":27.9,"x2":28.45,"y1":7.4,"y2":7.4},{"p":"Barley","x1":28.45,"x2":28.58,"y1":22.8,"y2":23.8},
      {"p":"Wheat","x1":11.81,"x2":12.74,"y1":5.9,"y2":5.9},{"p":"Wheat","x1":16.76,"x2":17.15,"y1":5.2,"y2":5.2},{"p":"Wheat","x1":19.0,"x2":19.55,"y1":5.2,"y2":5.2},{"p":"Wheat","x1":22.0,"x2":22.5,"y1":5.0,"y2":5.0},{"p":"Wheat","x1":23.97,"x2":24.25,"y1":4.7,"y2":4.7},{"p":"Wheat","x1":25.5,"x2":25.9,"y1":5.0,"y2":5.0},{"p":"Wheat","x1":27.0,"x2":27.9,"y1":4.7,"y2":4.7},{"p":"Wheat","x1":28.0,"x2":28.55,"y1":6.0,"y2":6.0}
    ]
  },
  "vconcat": [
    {
      "width": 1398,
      "height": 57,
      "data": {"values": [{}]},
      "layer": [
        {
          "mark": {"type": "rect", "fill": "#ffffff"},
          "encoding": {
            "x": {"datum": 2.446, "type": "quantitative", "scale": {"domain": [4.5, 32.73], "nice": false, "zero": false}, "axis": null},
            "x2": {"datum": 34.43},
            "y": {"datum": 0.614, "type": "quantitative", "scale": {"domain": [0, 1], "nice": false, "zero": false}, "axis": null},
            "y2": {"datum": 1}
          }
        },
        {
          "mark": {"type": "rect", "fill": {"gradient": "linear", "x1": 0, "y1": 0, "x2": 0, "y2": 1, "stops": [{"offset": 0, "color": "#5a88c6"}, {"offset": 0.12, "color": "#4676b9"}, {"offset": 1, "color": "#3464a6"}]}},
          "encoding": {
            "x": {"datum": 3.395, "type": "quantitative"},
            "x2": {"datum": 34.43},
            "y": {"datum": 0.167, "type": "quantitative"},
            "y2": {"datum": 0.614}
          }
        },
        {
          "mark": {"type": "text", "align": "left", "baseline": "middle", "font": "Noto Sans", "fontSize": 14.5, "color": "#ffffff"},
          "encoding": {
            "x": {"datum": 3.5, "type": "quantitative"},
            "y": {"datum": 0.39, "type": "quantitative"},
            "text": {"value": "Chromatogram\u00a0 30Aug_cereals_005, 30Aug_cereals_006, 30Aug_cereals_007, 30Aug_cereals_008, 30Aug_cereals_009"}
          }
        },
        {
          "mark": {"type": "text", "align": "center", "baseline": "middle", "font": "DejaVu Sans", "fontSize": 10, "color": "#ffffff"},
          "encoding": {
            "x": {"datum": 34.25, "type": "quantitative"},
            "y": {"datum": 0.42, "type": "quantitative"},
            "text": {"value": "▾"}
          }
        }
      ]
    },
    {
      "width": 1398,
      "height": 111,
      "layer": [
        {
          "data": {"name": "rye"},
          "mark": {"type": "line", "clip": true, "color": "#151515", "strokeWidth": 1.4},
          "encoding": {
            "x": {"field": "t", "type": "quantitative", "scale": {"domain": [4.5, 32.73], "nice": false, "zero": false},
                  "axis": {"title": null, "labels": false, "ticks": false, "domainColor": "#9e9e9e", "domainWidth": 1.6}},
            "y": {"field": "i", "type": "quantitative", "scale": {"domain": [-0.6, 20.4], "nice": false, "zero": false},
                  "axis": {"title": null, "values": [0,1,2,3,4,5,6,7,8,9,10,11,12,13,14,15,16,17,18,19,20], "tickCount": 40, "format": "d", "labelExpr": "datum.value % 10 === 0 ? datum.label : ''", "labelOverlap": false, "labelFontSize": 17, "labelColor": "#43467e", "labelPadding": 2, "tickColor": "#5a5c70", "domainColor": "#5a5c70", "tickSize": {"condition": [{"test": "datum.value % 10 === 0", "value": 9}, {"test": "datum.value % 5 === 0", "value": 6}], "value": 4}}}
          }
        },
        {
          "data": {"name": "leaders"},
          "transform": [{"filter": "datum.p === 'Rye'"}],
          "mark": {"type": "rule", "color": "#8c8c8c", "strokeWidth": 1.2},
          "encoding": {"x": {"field": "x1", "type": "quantitative"}, "x2": {"field": "x2"}, "y": {"field": "y1", "type": "quantitative"}, "y2": {"field": "y2"}}
        },
        {
          "data": {"name": "peaks"},
          "transform": [{"filter": "datum.p === 'Rye'"}],
          "mark": {"type": "text", "font": "Liberation Sans", "fontSize": 16, "color": "#3f8b37", "baseline": "middle"},
          "encoding": {"x": {"field": "x", "type": "quantitative"}, "y": {"field": "y", "type": "quantitative"}, "text": {"field": "rt"}}
        },
        {
          "data": {"values": [{}]},
          "mark": {"type": "rect", "stroke": "#7a9ed6", "strokeWidth": 1, "fill": {"gradient": "linear", "x1": 0, "y1": 0, "x2": 0, "y2": 1, "stops": [{"offset": 0, "color": "#e2ecfb"}, {"offset": 1, "color": "#a8c3ef"}]}},
          "encoding": {"x": {"datum": 28.93, "type": "quantitative"}, "x2": {"datum": 30.65}, "y": {"datum": 18.7, "type": "quantitative"}, "y2": {"datum": 7.34}}
        },
        {
          "data": {"values": [{}]},
          "mark": {"type": "text", "font": "Lato", "fontSize": 27, "color": "#1e2640", "baseline": "middle"},
          "encoding": {"x": {"datum": 29.79, "type": "quantitative"}, "y": {"datum": 13.0, "type": "quantitative"}, "text": {"value": "Rye"}}
        },
        {
          "data": {"values": [{}]},
          "mark": {"type": "text", "align": "left", "baseline": "top", "lineBreak": "\n", "lineHeight": 17, "font": "Liberation Sans", "fontSize": 12, "limit": 74, "ellipsis": "", "color": "#474747"},
          "encoding": {"x": {"datum": 32.93, "type": "quantitative"}, "y": {"datum": 26.08, "type": "quantitative"}, "text": {"value": "NL: 2.15E10\nTIC MS\n30Aug_cereals_00\n5"}}
        }
      ]
    },
    {
      "width": 1398,
      "height": 111,
      "layer": [
        {
          "data": {"name": "oat"},
          "mark": {"type": "line", "clip": true, "color": "#a3202a", "strokeWidth": 1.4},
          "encoding": {
            "x": {"field": "t", "type": "quantitative", "scale": {"domain": [4.5, 32.73], "nice": false, "zero": false},
                  "axis": {"title": null, "labels": false, "ticks": false, "domainColor": "#9e9e9e", "domainWidth": 1.6}},
            "y": {"field": "i", "type": "quantitative", "scale": {"domain": [-0.6, 20.4], "nice": false, "zero": false},
                  "axis": {"title": null, "values": [0,1,2,3,4,5,6,7,8,9,10,11,12,13,14,15,16,17,18,19,20], "tickCount": 40, "format": "d", "labelExpr": "datum.value % 10 === 0 ? datum.label : ''", "labelOverlap": false, "labelFontSize": 17, "labelColor": "#43467e", "labelPadding": 2, "tickColor": "#5a5c70", "domainColor": "#5a5c70", "tickSize": {"condition": [{"test": "datum.value % 10 === 0", "value": 9}, {"test": "datum.value % 5 === 0", "value": 6}], "value": 4}}}
          }
        },
        {
          "data": {"name": "leaders"},
          "transform": [{"filter": "datum.p === 'Oat'"}],
          "mark": {"type": "rule", "color": "#8c8c8c", "strokeWidth": 1.2},
          "encoding": {"x": {"field": "x1", "type": "quantitative"}, "x2": {"field": "x2"}, "y": {"field": "y1", "type": "quantitative"}, "y2": {"field": "y2"}}
        },
        {
          "data": {"name": "peaks"},
          "transform": [{"filter": "datum.p === 'Oat'"}],
          "mark": {"type": "text", "font": "Liberation Sans", "fontSize": 16, "color": "#3f8b37", "baseline": "middle"},
          "encoding": {"x": {"field": "x", "type": "quantitative"}, "y": {"field": "y", "type": "quantitative"}, "text": {"field": "rt"}}
        },
        {
          "data": {"values": [{}]},
          "mark": {"type": "rect", "stroke": "#7a9ed6", "strokeWidth": 1, "fill": {"gradient": "linear", "x1": 0, "y1": 0, "x2": 0, "y2": 1, "stops": [{"offset": 0, "color": "#e2ecfb"}, {"offset": 1, "color": "#a8c3ef"}]}},
          "encoding": {"x": {"datum": 28.93, "type": "quantitative"}, "x2": {"datum": 30.65}, "y": {"datum": 16.3, "type": "quantitative"}, "y2": {"datum": 5.4}}
        },
        {
          "data": {"values": [{}]},
          "mark": {"type": "text", "font": "Lato", "fontSize": 27, "color": "#1e2640", "baseline": "middle"},
          "encoding": {"x": {"datum": 29.79, "type": "quantitative"}, "y": {"datum": 10.85, "type": "quantitative"}, "text": {"value": "Oat"}}
        },
        {
          "data": {"values": [{}]},
          "mark": {"type": "text", "align": "left", "baseline": "top", "lineBreak": "\n", "lineHeight": 17, "font": "Liberation Sans", "fontSize": 12, "limit": 74, "ellipsis": "", "color": "#9c3a3a"},
          "encoding": {"x": {"datum": 32.93, "type": "quantitative"}, "y": {"datum": 26.08, "type": "quantitative"}, "text": {"value": "NL: 3.99E10\nTIC MS\n30Aug_cereals_00\n6"}}
        }
      ]
    },
    {
      "width": 1398,
      "height": 111,
      "layer": [
        {
          "data": {"name": "rice"},
          "mark": {"type": "line", "clip": true, "color": "#247a24", "strokeWidth": 1.4},
          "encoding": {
            "x": {"field": "t", "type": "quantitative", "scale": {"domain": [4.5, 32.73], "nice": false, "zero": false},
                  "axis": {"title": null, "labels": false, "ticks": false, "domainColor": "#9e9e9e", "domainWidth": 1.6}},
            "y": {"field": "i", "type": "quantitative", "scale": {"domain": [-0.6, 20.4], "nice": false, "zero": false},
                  "axis": {"title": null, "values": [0,1,2,3,4,5,6,7,8,9,10,11,12,13,14,15,16,17,18,19,20], "tickCount": 40, "format": "d", "labelExpr": "datum.value % 10 === 0 ? datum.label : ''", "labelOverlap": false, "labelFontSize": 17, "labelColor": "#43467e", "labelPadding": 2, "tickColor": "#5a5c70", "domainColor": "#5a5c70", "tickSize": {"condition": [{"test": "datum.value % 10 === 0", "value": 9}, {"test": "datum.value % 5 === 0", "value": 6}], "value": 4}}}
          }
        },
        {
          "data": {"name": "leaders"},
          "transform": [{"filter": "datum.p === 'Rice'"}],
          "mark": {"type": "rule", "color": "#8c8c8c", "strokeWidth": 1.2},
          "encoding": {"x": {"field": "x1", "type": "quantitative"}, "x2": {"field": "x2"}, "y": {"field": "y1", "type": "quantitative"}, "y2": {"field": "y2"}}
        },
        {
          "data": {"name": "peaks"},
          "transform": [{"filter": "datum.p === 'Rice'"}],
          "mark": {"type": "text", "font": "Liberation Sans", "fontSize": 16, "color": "#3f8b37", "baseline": "middle"},
          "encoding": {"x": {"field": "x", "type": "quantitative"}, "y": {"field": "y", "type": "quantitative"}, "text": {"field": "rt"}}
        },
        {
          "data": {"values": [{}]},
          "mark": {"type": "rect", "stroke": "#7a9ed6", "strokeWidth": 1, "fill": {"gradient": "linear", "x1": 0, "y1": 0, "x2": 0, "y2": 1, "stops": [{"offset": 0, "color": "#e2ecfb"}, {"offset": 1, "color": "#a8c3ef"}]}},
          "encoding": {"x": {"datum": 29.14, "type": "quantitative"}, "x2": {"datum": 30.87}, "y": {"datum": 19.9, "type": "quantitative"}, "y2": {"datum": 9.9}}
        },
        {
          "data": {"values": [{}]},
          "mark": {"type": "text", "font": "Lato", "fontSize": 27, "color": "#1e2640", "baseline": "middle"},
          "encoding": {"x": {"datum": 30.0, "type": "quantitative"}, "y": {"datum": 14.9, "type": "quantitative"}, "text": {"value": "Rice"}}
        },
        {
          "data": {"values": [{}]},
          "mark": {"type": "text", "align": "left", "baseline": "top", "lineBreak": "\n", "lineHeight": 17, "font": "Liberation Sans", "fontSize": 12, "limit": 74, "ellipsis": "", "color": "#4a6a4a"},
          "encoding": {"x": {"datum": 32.93, "type": "quantitative"}, "y": {"datum": 26.08, "type": "quantitative"}, "text": {"value": "NL: 2.69E10\nTIC MS\n30Aug_cereals_00\n7"}}
        }
      ]
    },
    {
      "width": 1398,
      "height": 111,
      "layer": [
        {
          "data": {"name": "barley"},
          "mark": {"type": "line", "clip": true, "color": "#1c1c98", "strokeWidth": 1.4},
          "encoding": {
            "x": {"field": "t", "type": "quantitative", "scale": {"domain": [4.5, 32.73], "nice": false, "zero": false},
                  "axis": {"title": null, "labels": false, "ticks": false, "domainColor": "#9e9e9e", "domainWidth": 1.6}},
            "y": {"field": "i", "type": "quantitative", "scale": {"domain": [-0.6, 20.4], "nice": false, "zero": false},
                  "axis": {"title": null, "values": [0,1,2,3,4,5,6,7,8,9,10,11,12,13,14,15,16,17,18,19,20], "tickCount": 40, "format": "d", "labelExpr": "datum.value % 10 === 0 ? datum.label : ''", "labelOverlap": false, "labelFontSize": 17, "labelColor": "#43467e", "labelPadding": 2, "tickColor": "#5a5c70", "domainColor": "#5a5c70", "tickSize": {"condition": [{"test": "datum.value % 10 === 0", "value": 9}, {"test": "datum.value % 5 === 0", "value": 6}], "value": 4}}}
          }
        },
        {
          "data": {"name": "leaders"},
          "transform": [{"filter": "datum.p === 'Barley'"}],
          "mark": {"type": "rule", "color": "#8c8c8c", "strokeWidth": 1.2},
          "encoding": {"x": {"field": "x1", "type": "quantitative"}, "x2": {"field": "x2"}, "y": {"field": "y1", "type": "quantitative"}, "y2": {"field": "y2"}}
        },
        {
          "data": {"name": "peaks"},
          "transform": [{"filter": "datum.p === 'Barley'"}],
          "mark": {"type": "text", "font": "Liberation Sans", "fontSize": 16, "color": "#3f8b37", "baseline": "middle"},
          "encoding": {"x": {"field": "x", "type": "quantitative"}, "y": {"field": "y", "type": "quantitative"}, "text": {"field": "rt"}}
        },
        {
          "data": {"values": [{}]},
          "mark": {"type": "rect", "stroke": "#7a9ed6", "strokeWidth": 1, "fill": {"gradient": "linear", "x1": 0, "y1": 0, "x2": 0, "y2": 1, "stops": [{"offset": 0, "color": "#e2ecfb"}, {"offset": 1, "color": "#a8c3ef"}]}},
          "encoding": {"x": {"datum": 28.8, "type": "quantitative"}, "x2": {"datum": 31.15}, "y": {"datum": 20.6, "type": "quantitative"}, "y2": {"datum": 9.9}}
        },
        {
          "data": {"values": [{}]},
          "mark": {"type": "text", "font": "Lato", "fontSize": 27, "color": "#1e2640", "baseline": "middle"},
          "encoding": {"x": {"datum": 29.98, "type": "quantitative"}, "y": {"datum": 15.25, "type": "quantitative"}, "text": {"value": "Barley"}}
        },
        {
          "data": {"values": [{}]},
          "mark": {"type": "text", "align": "left", "baseline": "top", "lineBreak": "\n", "lineHeight": 17, "font": "Liberation Sans", "fontSize": 12, "limit": 74, "ellipsis": "", "color": "#40407e"},
          "encoding": {"x": {"datum": 32.93, "type": "quantitative"}, "y": {"datum": 26.08, "type": "quantitative"}, "text": {"value": "NL: 2.99E10\nTIC MS\n30Aug_cereals_00\n8"}}
        }
      ]
    },
    {
      "width": 1398,
      "height": 111,
      "layer": [
        {
          "data": {"values": [{}]},
          "mark": {"type": "rect", "fill": "#e7e7e7"},
          "encoding": {"x": {"datum": 4.5, "type": "quantitative"}, "x2": {"datum": 32.73}, "y": {"datum": -0.6, "type": "quantitative"}, "y2": {"datum": 25.5}}
        },
        {
          "data": {"name": "wheat"},
          "mark": {"type": "line", "clip": true, "color": "#c99c24", "strokeWidth": 1.4},
          "encoding": {
            "x": {"field": "t", "type": "quantitative", "scale": {"domain": [4.5, 32.73], "nice": false, "zero": false},
                  "axis": {"title": "Time (min)", "values": [5,5.5,6,6.5,7,7.5,8,8.5,9,9.5,10,10.5,11,11.5,12,12.5,13,13.5,14,14.5,15,15.5,16,16.5,17,17.5,18,18.5,19,19.5,20,20.5,21,21.5,22,22.5,23,23.5,24,24.5,25,25.5,26,26.5,27,27.5,28,28.5,29,29.5,30,30.5,31,31.5,32,32.5],
                           "tickCount": 100, "format": "d",
                           "labelExpr": "datum.value % 2 === 0 ? datum.label : ''", "labelOverlap": false, "labelFontSize": 15, "labelColor": "#43467e", "labelPadding": 0,
                           "tickColor": "#6a6c80", "domainColor": "#6a6c80", "domainWidth": 1.5,
                           "tickSize": {"condition": [{"test": "datum.value % 2 === 0", "value": 9}, {"test": "datum.value % 1 === 0", "value": 6}], "value": 4},
                           "titleFontSize": 12, "titleFontWeight": "normal", "titleColor": "#333333", "titleY": 34, "titleBaseline": "alphabetic"}},
            "y": {"field": "i", "type": "quantitative", "scale": {"domain": [-0.6, 20.4], "nice": false, "zero": false},
                  "axis": {"title": null, "values": [0,1,2,3,4,5,6,7,8,9,10,11,12,13,14,15,16,17,18,19,20], "tickCount": 40, "format": "d", "labelExpr": "datum.value % 10 === 0 ? datum.label : ''", "labelOverlap": false, "labelFontSize": 17, "labelColor": "#43467e", "labelPadding": 2, "tickColor": "#5a5c70", "domainColor": "#5a5c70", "tickSize": {"condition": [{"test": "datum.value % 10 === 0", "value": 9}, {"test": "datum.value % 5 === 0", "value": 6}], "value": 4}}}
          }
        },
        {
          "data": {"name": "leaders"},
          "transform": [{"filter": "datum.p === 'Wheat'"}],
          "mark": {"type": "rule", "color": "#8c8c8c", "strokeWidth": 1.2},
          "encoding": {"x": {"field": "x1", "type": "quantitative"}, "x2": {"field": "x2"}, "y": {"field": "y1", "type": "quantitative"}, "y2": {"field": "y2"}}
        },
        {
          "data": {"name": "peaks"},
          "transform": [{"filter": "datum.p === 'Wheat'"}],
          "mark": {"type": "text", "font": "Liberation Sans", "fontSize": 16, "color": "#3f8b37", "baseline": "middle"},
          "encoding": {"x": {"field": "x", "type": "quantitative"}, "y": {"field": "y", "type": "quantitative"}, "text": {"field": "rt"}}
        },
        {
          "data": {"values": [{}]},
          "mark": {"type": "rect", "stroke": "#7a9ed6", "strokeWidth": 1, "fill": {"gradient": "linear", "x1": 0, "y1": 0, "x2": 0, "y2": 1, "stops": [{"offset": 0, "color": "#e2ecfb"}, {"offset": 1, "color": "#a8c3ef"}]}},
          "encoding": {"x": {"datum": 28.8, "type": "quantitative"}, "x2": {"datum": 31.3}, "y": {"datum": 22.7, "type": "quantitative"}, "y2": {"datum": 12.8}}
        },
        {
          "data": {"values": [{}]},
          "mark": {"type": "text", "font": "Lato", "fontSize": 27, "color": "#1e2640", "baseline": "middle"},
          "encoding": {"x": {"datum": 30.05, "type": "quantitative"}, "y": {"datum": 17.75, "type": "quantitative"}, "text": {"value": "Wheat"}}
        },
        {
          "data": {"values": [{}]},
          "mark": {"type": "text", "align": "left", "baseline": "top", "lineBreak": "\n", "lineHeight": 17, "font": "Liberation Sans", "fontSize": 12, "limit": 74, "ellipsis": "", "color": "#c6a55e"},
          "encoding": {"x": {"datum": 32.93, "type": "quantitative"}, "y": {"datum": 26.08, "type": "quantitative"}, "text": {"value": "NL: 1.91E10\nTIC MS\n30Aug_cereals_00\n9"}}
        }
      ]
    }
  ]
}
